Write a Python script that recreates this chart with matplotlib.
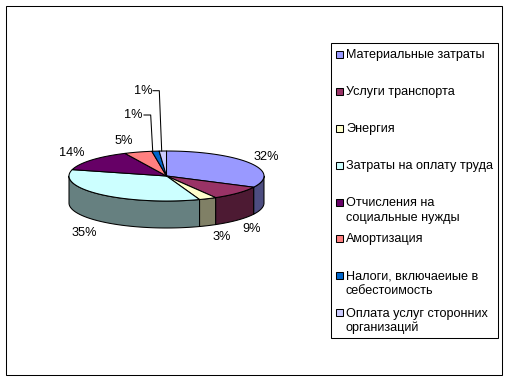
import numpy as np
import matplotlib
matplotlib.use("Agg")
import matplotlib.pyplot as plt
from matplotlib.patches import Polygon, Rectangle

plt.rcParams['font.family'] = ['Liberation Sans', 'DejaVu Sans']

categories = ["Материальные затраты", "Услуги транспорта", "Энергия",
              "Затраты на оплату труда", "Отчисления на\nсоциальные нужды",
              "Амортизация", "Налоги, включаеиые в\nсебестоимость",
              "Оплата услуг сторонних\nорганизаций"]
values = [32.4, 9.2, 2.9, 34.6, 13.9, 4.6, 1.2, 1.2]
colors = ["#9999FF", "#993366", "#FFFFCC", "#CCFFFF", "#660066", "#FF8080", "#0066CC", "#CCCCFF"]
sides = ["#4D4D80", "#4D1A33", "#808066", "#668080", "#330033", "#804040", "#003366", "#666680"]

# pie geometry in pixels
cx, cy, rx, ry, depth = 166.5, 176, 97.5, 25, 27
line = 0.75

fig = plt.figure(figsize=(5.08, 3.81), dpi=100)
ax = fig.add_axes([0, 0, 1, 1])
ax.set_xlim(0, 508)
ax.set_ylim(381, 0)
ax.axis("off")

ax.add_patch(Rectangle((5.5, 5.5), 496, 369.5, fill=False, ec="black", lw=line))


def rim(a0, a1, n=80):
    # angles clockwise from the top, in degrees
    t = np.radians(np.linspace(a0, a1, n))
    return cx + rx * np.sin(t), cy - ry * np.cos(t)


edges = np.concatenate([[0], np.cumsum(values)]) * 3.6

# side wall, only the front half of the ellipse shows
for i in range(len(values)):
    a0, a1 = max(edges[i], 90), min(edges[i + 1], 270)
    if a1 <= a0:
        continue
    x, y = rim(a0, a1)
    pts = np.r_[np.c_[x, y], np.c_[x[::-1], y[::-1] + depth]]
    ax.add_patch(Polygon(pts, fc=sides[i], ec="black", lw=line, joinstyle="round"))

# top face
for i in range(len(values)):
    x, y = rim(edges[i], edges[i + 1])
    pts = np.r_[[[cx, cy]], np.c_[x, y]]
    ax.add_patch(Polygon(pts, fc=colors[i], ec="black", lw=line, joinstyle="round"))

# percent labels
label_pos = [(266, 157), (252, 229), (222, 236), (84, 233), (72, 152), (124, 141), (133, 115), (143, 91)]
for v, (lx, ly) in zip(values, label_pos):
    ax.text(lx, ly + 0.5, f"{v:.0f}%", ha="center", va="center", fontsize=9.2)

# leader lines for the two small slices
ax.plot([144, 150.7, 152.7], [115, 115, 151], color="black", lw=line)
ax.plot([153, 159.3, 161.7], [90.7, 90.7, 151], color="black", lw=line)

# legend
ax.add_patch(Rectangle((330.5, 42.5), 167, 295, fc="white", ec="black", lw=line))
legend_y = [54, 91, 128, 164.5, 209.5, 238, 283, 320]
for name, c, ly in zip(categories, colors, legend_y):
    first = ly if "\n" not in name else ly - 8
    ax.add_patch(Rectangle((336, first - 3), 7, 7, fc=c, ec="black", lw=line))
    ax.text(346, ly + 1, name, ha="left", va="center", fontsize=9.1, linespacing=1.25)

fig.savefig("out.png", dpi=100)
